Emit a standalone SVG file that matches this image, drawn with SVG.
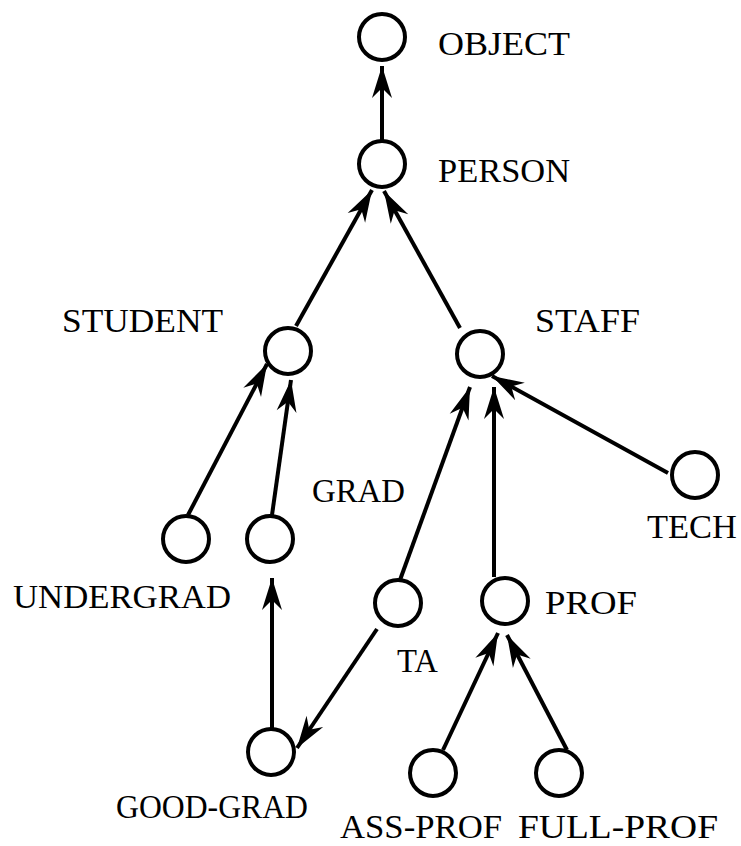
<svg xmlns="http://www.w3.org/2000/svg" width="741" height="846" viewBox="0 0 741 846">
  <style>
    .node circle { fill: #ffffff; stroke: #000000; stroke-width: 4; }
    .node text { font-family: "Liberation Serif", "DejaVu Serif", serif; font-size: 33px; fill: #000000; }
    .edge { stroke: #000000; stroke-width: 4; fill: none; marker-end: url(#barb); }
  </style>
  <defs>
    <marker id="barb" markerUnits="userSpaceOnUse" markerWidth="40" markerHeight="30" viewBox="-34 -15 40 30" refX="0" refY="0" orient="auto">
      <path d="M0,0 L-32,-10 L-22,0 L-32,10 Z" fill="#000000"/>
    </marker>
  </defs>
  <rect width="741" height="846" fill="#ffffff"/>

  <!-- class hierarchy: arrows point from subclass to superclass -->
  <g id="connectors">
    <line class="edge" x1="382" y1="140" x2="382" y2="66"/>
    <line class="edge" x1="296" y1="326" x2="372" y2="190"/>
    <line class="edge" x1="460" y1="328" x2="384" y2="191"/>
    <line class="edge" x1="188" y1="515" x2="267" y2="364"/>
    <line class="edge" x1="272" y1="515" x2="291" y2="380"/>
    <line class="edge" x1="400" y1="580" x2="470" y2="387"/>
    <line class="edge" x1="494" y1="577" x2="494" y2="387"/>
    <line class="edge" x1="668" y1="473" x2="492" y2="376"/>
    <line class="edge" x1="272" y1="728" x2="272" y2="578"/>
    <line class="edge" x1="377" y1="629" x2="297" y2="748"/>
    <line class="edge" x1="443" y1="750" x2="498" y2="633"/>
    <line class="edge" x1="567" y1="750" x2="507" y2="635"/>
  </g>

  <g id="object" class="node">
    <circle cx="382" cy="37" r="23"/>
    <text x="438" y="55" textLength="132" lengthAdjust="spacingAndGlyphs">OBJECT</text>
  </g>
  <g id="person" class="node">
    <circle cx="382" cy="164" r="23"/>
    <text x="438" y="182" textLength="132" lengthAdjust="spacingAndGlyphs">PERSON</text>
  </g>
  <g id="student" class="node">
    <circle cx="288" cy="351" r="23"/>
    <text x="62" y="332" textLength="161" lengthAdjust="spacingAndGlyphs">STUDENT</text>
  </g>
  <g id="staff" class="node">
    <circle cx="480" cy="354" r="23"/>
    <text x="535" y="332" textLength="105" lengthAdjust="spacingAndGlyphs">STAFF</text>
  </g>
  <g id="undergrad" class="node">
    <circle cx="186" cy="539" r="23"/>
    <text x="13" y="608" textLength="218" lengthAdjust="spacingAndGlyphs">UNDERGRAD</text>
  </g>
  <g id="grad" class="node">
    <circle cx="270" cy="539" r="23"/>
    <text x="312" y="502" textLength="93" lengthAdjust="spacingAndGlyphs">GRAD</text>
  </g>
  <g id="tech" class="node">
    <circle cx="695" cy="475" r="23"/>
    <text x="647" y="538" textLength="90" lengthAdjust="spacingAndGlyphs">TECH</text>
  </g>
  <g id="ta" class="node">
    <circle cx="398" cy="603" r="23"/>
    <text x="397" y="672" textLength="41" lengthAdjust="spacingAndGlyphs">TA</text>
  </g>
  <g id="prof" class="node">
    <circle cx="505" cy="601" r="23"/>
    <text x="545" y="614" textLength="92" lengthAdjust="spacingAndGlyphs">PROF</text>
  </g>
  <g id="good-grad" class="node">
    <circle cx="271" cy="752" r="23"/>
    <text x="116" y="818" textLength="192" lengthAdjust="spacingAndGlyphs">GOOD-GRAD</text>
  </g>
  <g id="ass-prof" class="node">
    <circle cx="433" cy="773" r="23"/>
    <text x="340" y="838" textLength="162" lengthAdjust="spacingAndGlyphs">ASS-PROF</text>
  </g>
  <g id="full-prof" class="node">
    <circle cx="559" cy="773" r="23"/>
    <text x="518" y="838" textLength="200" lengthAdjust="spacingAndGlyphs">FULL-PROF</text>
  </g>
</svg>
